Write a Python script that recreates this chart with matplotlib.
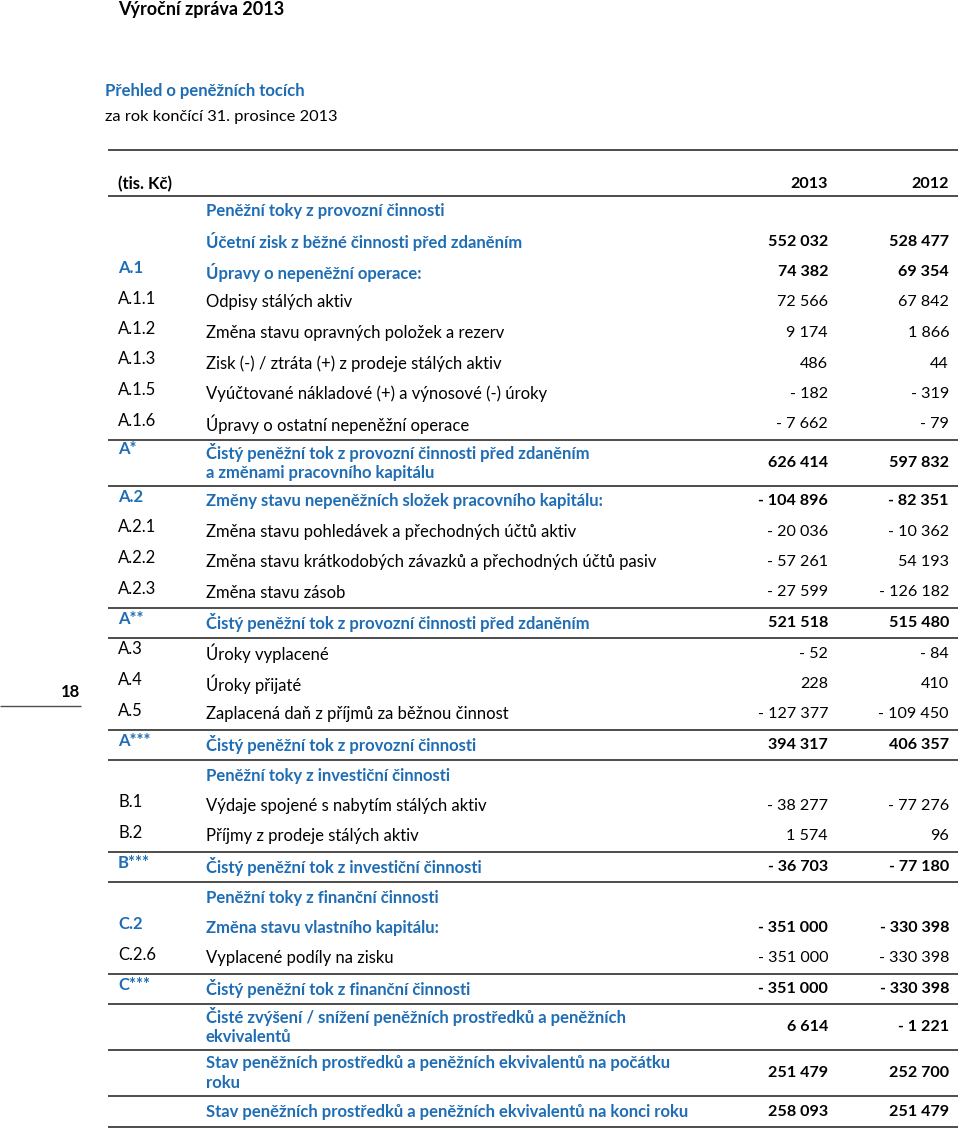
import matplotlib
matplotlib.use("Agg")
import matplotlib.pyplot as plt

plt.rcParams['font.family'] = ['Lato', 'DejaVu Sans']

BLUE = '#1f6db4'
RULE = '#4d4d4d'

codes = ["", "", "A.1", "A.1.1", "A.1.2", "A.1.3", "A.1.5", "A.1.6",
         "A*", "A.2", "A.2.1", "A.2.2", "A.2.3", "A**", "A.3", "A.4", "A.5",
         "A***", "", "B.1", "B.2", "B***", "", "C.2", "C.2.6", "C***",
         "", "", ""]

labels = [
    "Peněžní toky z provozní činnosti",
    "Účetní zisk z běžné činnosti před zdaněním",
    "Úpravy o nepeněžní operace:",
    "Odpisy stálých aktiv",
    "Změna stavu opravných položek a rezerv",
    "Zisk (-) / ztráta (+) z prodeje stálých aktiv",
    "Vyúčtované nákladové (+) a výnosové (-) úroky",
    "Úpravy o ostatní nepeněžní operace",
    "Čistý peněžní tok z provozní činnosti před zdaněním\na změnami pracovního kapitálu",
    "Změny stavu nepeněžních složek pracovního kapitálu:",
    "Změna stavu pohledávek a přechodných účtů aktiv",
    "Změna stavu krátkodobých závazků a přechodných účtů pasiv",
    "Změna stavu zásob",
    "Čistý peněžní tok z provozní činnosti před zdaněním",
    "Úroky vyplacené",
    "Úroky přijaté",
    "Zaplacená daň z příjmů za běžnou činnost",
    "Čistý peněžní tok z provozní činnosti",
    "Peněžní toky z investiční činnosti",
    "Výdaje spojené s nabytím stálých aktiv",
    "Příjmy z prodeje stálých aktiv",
    "Čistý peněžní tok z investiční činnosti",
    "Peněžní toky z finanční činnosti",
    "Změna stavu vlastního kapitálu:",
    "Vyplacené podíly na zisku",
    "Čistý peněžní tok z finanční činnosti",
    "Čisté zvýšení / snížení peněžních prostředků a peněžních\nekvivalentů",
    "Stav peněžních prostředků a peněžních ekvivalentů na počátku\nroku",
    "Stav peněžních prostředků a peněžních ekvivalentů na konci roku",
]

values_2013 = [None, 552032, 74382, 72566, 9174, 486, -182, -7662,
               626414, -104896, -20036, -57261, -27599, 521518, -52, 228, -127377,
               394317, None, -38277, 1574, -36703, None, -351000, -351000, -351000,
               6614, 251479, 258093]

values_2012 = [None, 528477, 69354, 67842, 1866, 44, -319, -79,
               597832, -82351, -10362, 54193, -126182, 515480, -84, 410, -109450,
               406357, None, -77276, 96, -77180, None, -330398, -330398, -330398,
               -1221, 252700, 251479]

# row kind: section heading, bold total, plain item
kinds = ["section", "total", "total", "item", "item", "item", "item", "item",
         "total", "total", "item", "item", "item", "total", "item", "item", "item",
         "total", "section", "item", "item", "total", "section", "total", "item", "total",
         "total", "total", "total"]

rule_after = {7, 8, 12, 13, 16, 17, 20, 21, 24, 25, 26, 27, 28}


def fmt(v):
    s = f"{abs(v):,}".replace(",", " ")
    return "- " + s if v < 0 else s


fig = plt.figure(figsize=(9.6, 11.29), dpi=100)
ax = fig.add_axes([0, 0, 1, 1])
ax.set_xlim(0, 960)
ax.set_ylim(1129, 0)
ax.axis('off')

FS = 12.0
FS_NUM = 11.6
X_CODE, X_LABEL, X_2013, X_2012 = 118, 206, 828, 949
X0, X1 = 108, 958

# page header
ax.text(118, 9, "Výroční zpráva 2013", fontsize=13, fontweight='bold', va='center', color='black')
ax.text(105, 91, "Přehled o peněžních tocích", fontsize=12, fontweight='bold', va='center', color=BLUE)
ax.text(105, 117, "za rok končící 31. prosince 2013", fontsize=11.8, va='center', color='black')
ax.hlines(150, X0, X1, color=RULE, lw=1.4)

# column header
ax.text(X_CODE, 184, "(tis. Kč)", fontsize=FS, fontweight='bold', va='center')
ax.text(X_2013, 184, "2013", fontsize=FS_NUM, fontweight='bold', va='center', ha='right')
ax.text(X_2012, 184, "2012", fontsize=FS_NUM, fontweight='bold', va='center', ha='right')
ax.hlines(196, X0, X1, color=RULE, lw=1.4)

# page number
ax.text(80, 692, "18", fontsize=12, fontweight='bold', va='center', ha='right')
ax.hlines(706, 0, 81, color=RULE, lw=1.0)

ROW1, ROW2, LINE_GAP = 30.5, 46.0, 20.5
y = 211.0
prev_h = None
for i, lab in enumerate(labels):
    lines = lab.split("\n")
    h = ROW1 if len(lines) == 1 else ROW2
    if prev_h is not None:
        y += (prev_h + h) / 2
    prev_h = h

    kind = kinds[i]
    bold = kind in ("section", "total")
    lab_color = BLUE if bold else 'black'
    weight = 'bold' if bold else 'normal'

    first = y - (len(lines) - 1) * LINE_GAP / 2
    for k, ln in enumerate(lines):
        ax.text(X_LABEL, first + k * LINE_GAP, ln, fontsize=FS, fontweight=weight,
                color=lab_color, va='center')

    if codes[i]:
        ax.text(X_CODE, first - 4, codes[i], fontsize=FS, fontweight=weight,
                color=lab_color, va='center')

    if values_2013[i] is not None:
        ax.text(X_2013, y, fmt(values_2013[i]), fontsize=FS_NUM, fontweight=weight,
                color='black', va='center', ha='right')
        ax.text(X_2012, y, fmt(values_2012[i]), fontsize=FS_NUM, fontweight=weight,
                color='black', va='center', ha='right')

    if i in rule_after:
        ax.hlines(y + h / 2, X0, X1, color=RULE, lw=1.4)

fig.savefig("out.png", dpi=100)
